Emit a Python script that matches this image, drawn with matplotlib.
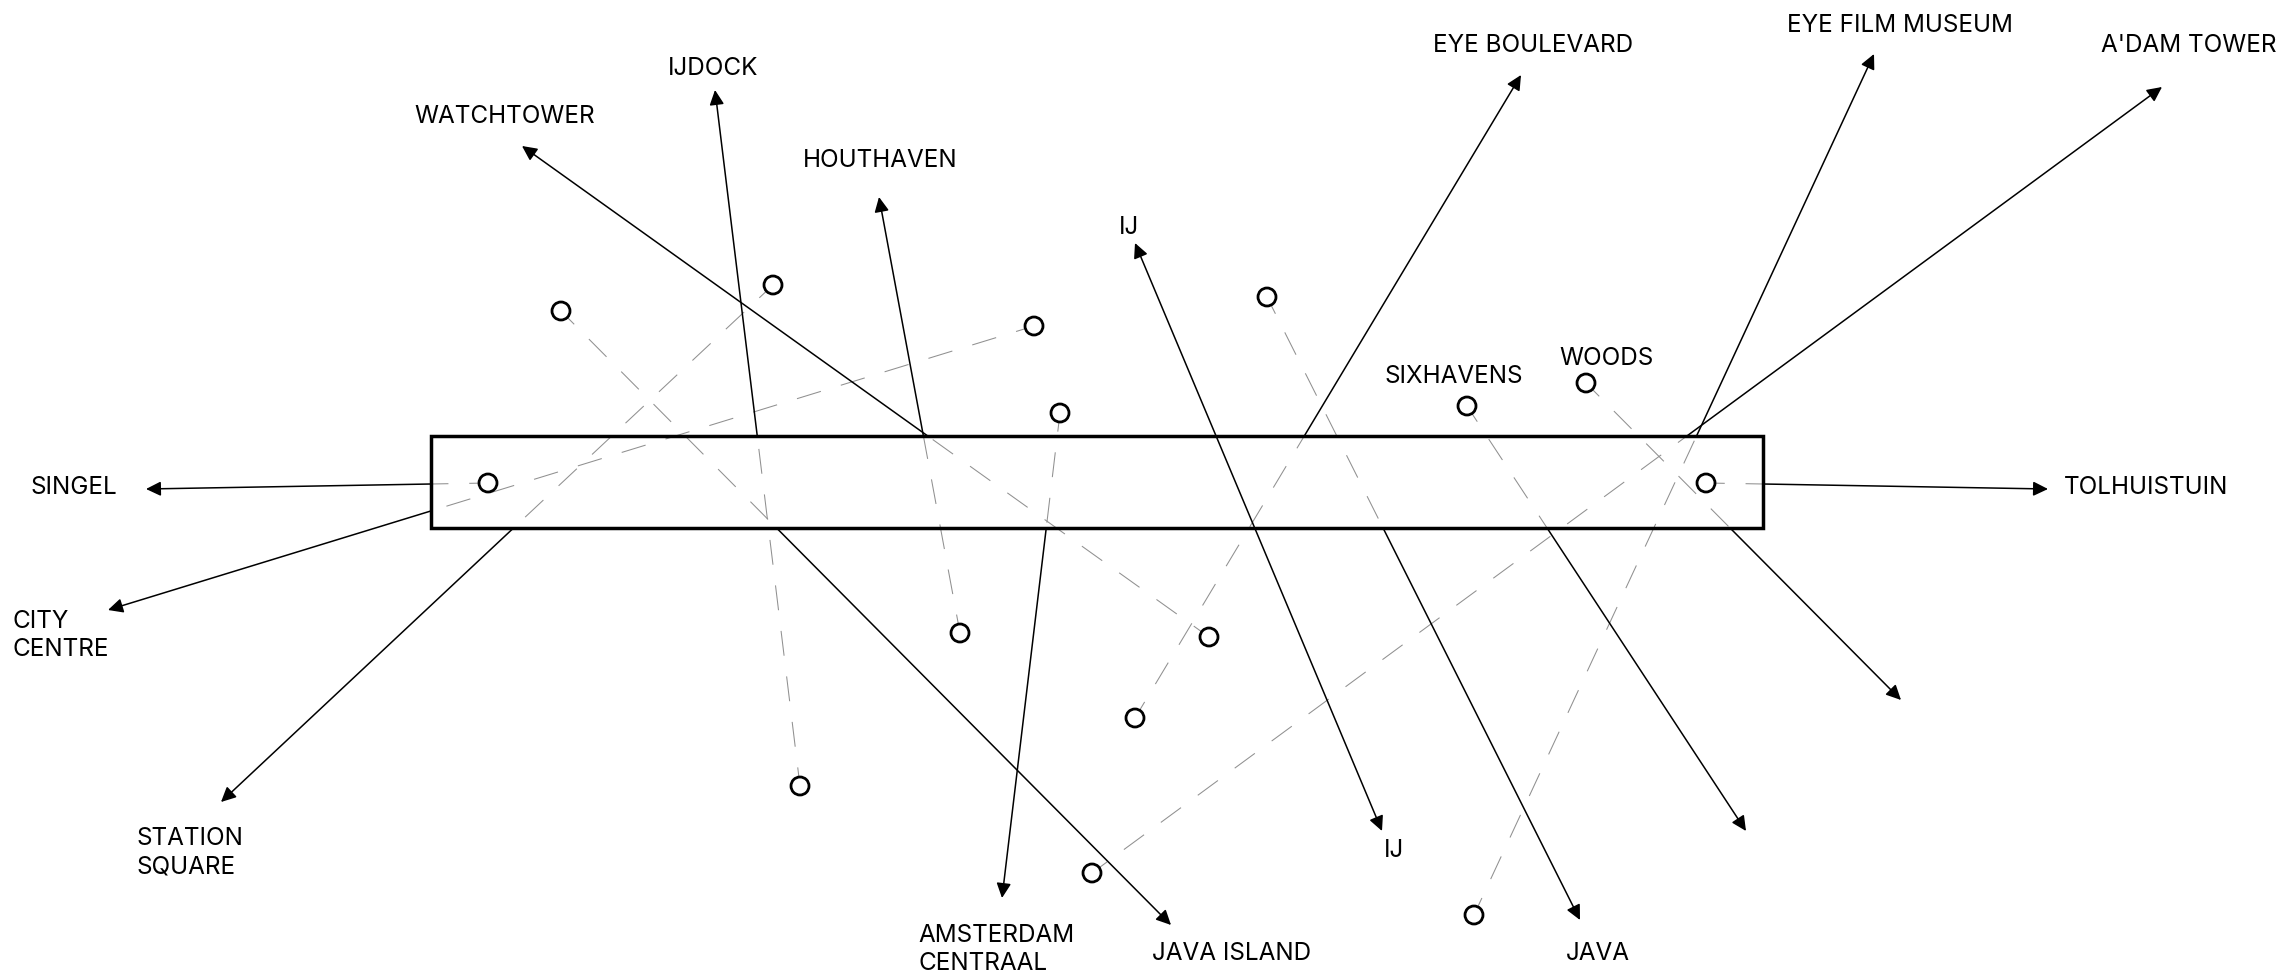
import matplotlib
matplotlib.use("Agg")
import matplotlib.pyplot as plt
from matplotlib.patches import Rectangle, Circle
import numpy as np

# canvas is measured in pixels of the 2284x976 picture, y going down
W, H = 2284, 976

# the site box
box_x0, box_x1 = 431, 1763
box_y0, box_y1 = 436, 528

# origin circles and where each sight line ends (arrow tip)
origin_x = [561, 773, 1034, 1060, 488, 1267, 1467, 1586, 1706, 960, 1209, 1135, 800, 1092, 1474]
origin_y = [311, 285, 326, 413, 483, 297, 406, 383, 483, 633, 637, 718, 786, 873, 915]
tip_x = [1171, 221, 108, 1002, 146, 1580, 1746, 1901, 2048, 879, 522, 1521, 715, 2162, 1874]
tip_y = [925, 802, 610, 898, 489, 920, 831, 700, 489, 197, 146, 75, 90, 87, 54]

# the IJ line has no origin, arrows at both ends
ij_start = (1135, 243)
ij_end = (1382, 831)

# labels: text, left x, baseline y
label_text = ["IJDOCK", "WATCHTOWER", "HOUTHAVEN", "IJ", "EYE BOULEVARD", "EYE FILM MUSEUM",
              "A'DAM TOWER", "SIXHAVENS", "WOODS", "SINGEL", "TOLHUISTUIN", "CITY\nCENTRE",
              "STATION\nSQUARE", "AMSTERDAM\nCENTRAAL", "JAVA ISLAND", "IJ", "JAVA"]
label_x = [668, 414, 803, 1119, 1433, 1787, 2101, 1384, 1559, 30, 2064, 12, 136, 918, 1152, 1384, 1566]
label_y = [75, 123, 167, 234, 52, 32, 52, 383, 365, 494, 494, 628, 845, 942, 960, 857, 960]


def box_exit(x0, y0, x1, y1):
    # Liang-Barsky: last parameter t where the segment is still inside the box
    dx, dy = x1 - x0, y1 - y0
    t_in, t_out = 0.0, 1.0
    for p, q in [(-dx, x0 - box_x0), (dx, box_x1 - x0), (-dy, y0 - box_y0), (dy, box_y1 - y0)]:
        if p == 0:
            continue
        t = q / p
        if p < 0:
            t_in = max(t_in, t)
        else:
            t_out = min(t_out, t)
    return x0 + t_out * dx, y0 + t_out * dy


plt.rcParams['font.family'] = ['Inter', 'DejaVu Sans']

fig = plt.figure(figsize=(W / 100, H / 100), dpi=100)
ax = fig.add_axes([0, 0, 1, 1])
ax.set_xlim(0, W)
ax.set_ylim(H, 0)
ax.axis('off')

arrow = dict(arrowstyle='-|>,head_length=0.45,head_width=0.22', mutation_scale=20,
             color='black', lw=1.1, shrinkA=0, shrinkB=0)

for ox, oy, tx, ty in zip(origin_x, origin_y, tip_x, tip_y):
    ex, ey = box_exit(ox, oy, tx, ty)
    # dashed inside / towards the box, solid once it leaves
    ax.plot([ox, ex], [oy, ey], color='#909090', lw=0.75, linestyle=(6, (24, 20)), zorder=1)
    ax.annotate('', xy=(tx, ty), xytext=(ex, ey), arrowprops=arrow, zorder=2)

ax.annotate('', xy=ij_end, xytext=ij_start,
            arrowprops=dict(arrow, arrowstyle='<|-|>,head_length=0.45,head_width=0.22'), zorder=2)

ax.add_patch(Rectangle((box_x0, box_y0), box_x1 - box_x0, box_y1 - box_y0,
                       fill=False, edgecolor='black', lw=2.5, zorder=3))

for ox, oy in zip(origin_x, origin_y):
    ax.add_patch(Circle((ox, oy), 9, facecolor='white', edgecolor='black', lw=2.0, zorder=4))

for txt, lx, ly in zip(label_text, label_x, label_y):
    lines = txt.split('\n')
    for i, line in enumerate(lines):
        ax.text(lx, ly + i * 28.5, line, fontsize=17.5, fontweight='normal',
                ha='left', va='baseline', color='black', zorder=5)

fig.savefig('out.png', dpi=100, facecolor='white')
